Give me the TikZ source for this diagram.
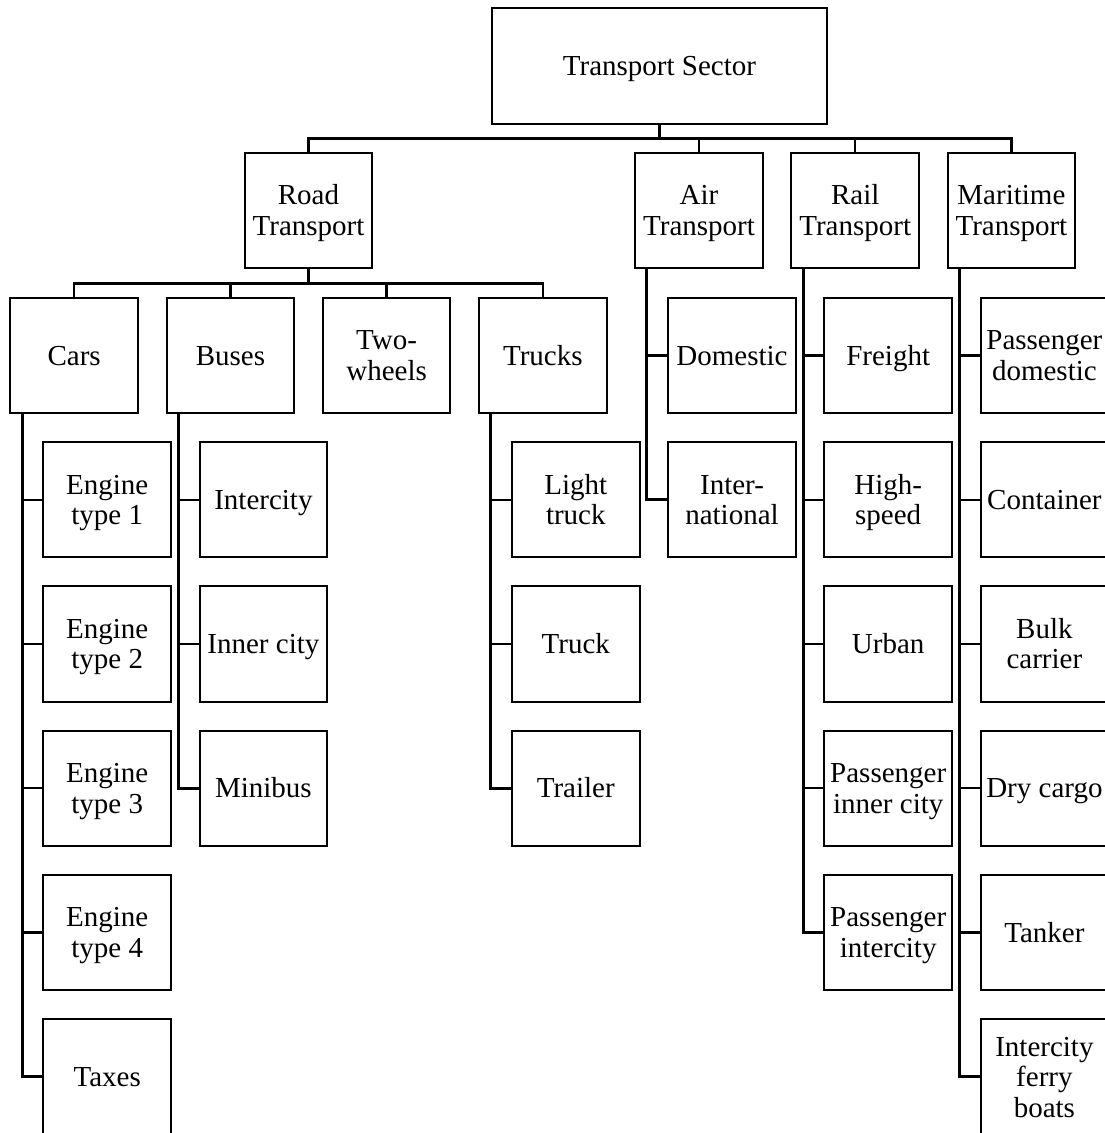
\documentclass[tikz,border=0pt]{standalone}
\usepackage{fontspec}
\setmainfont{Liberation Serif}
% one text line whose box runs from the baseline to the cap height
\newcommand\capline[1]{\raisebox{0pt}[19.2pt][0pt]{#1}}
\begin{document}
\begin{tikzpicture}[x=1pt, y=-1pt,
  every node/.style={font=\fontsize{29}{30.5}\selectfont, align=center},
  unit/.style={draw, line width=2pt, rectangle, minimum width=127.5pt,
    minimum height=115.5pt, inner sep=0pt},
  rootbox/.style={unit, minimum width=335pt, minimum height=115.7pt},
  link/.style={line width=2.3pt},
  trunk/.style={line width=3pt},
]
\path[use as bounding box, fill=white] (0,0) rectangle (1105,1133);

% top level
\node[rootbox] (root) at (659.5,66.2) {\capline{Transport Sector}};

% transport modes
\node[unit] (road) at (308.5,210.5) {\capline{Road}\\\capline{Transport}};
\node[unit] (air)  at (699,210.5)   {\capline{Air}\\\capline{Transport}};
\node[unit] (rail) at (855.2,210.5) {\capline{Rail}\\\capline{Transport}};
\node[unit] (mari) at (1011.4,210.5){\capline{Maritime}\\\capline{Transport}};

% road vehicle groups
\node[unit] (cars)   at (74.2,355.4)  {\capline{Cars}};
\node[unit] (buses)  at (230.4,355.4) {\capline{Buses}};
\node[unit] (two)    at (386.6,355.4) {\capline{Two-}\\\capline{wheels}};
\node[unit] (trucks) at (542.8,355.4) {\capline{Trucks}};

% cars
\node[unit] (e1)    at (107.2,499.7) {\capline{Engine}\\\capline{type 1}};
\node[unit] (e2)    at (107.2,644)   {\capline{Engine}\\\capline{type 2}};
\node[unit] (e3)    at (107.2,788.3) {\capline{Engine}\\\capline{type 3}};
\node[unit] (e4)    at (107.2,932.6) {\capline{Engine}\\\capline{type 4}};
\node[unit] (taxes) at (107.2,1076.9){\capline{Taxes}};

% buses
\node[unit] (bi) at (263.4,499.7) {\capline{Intercity}};
\node[unit] (bc) at (263.4,644)   {\capline{Inner city}};
\node[unit] (bm) at (263.4,788.3) {\capline{Minibus}};

% trucks
\node[unit] (lt) at (575.8,499.7) {\capline{Light}\\\capline{truck}};
\node[unit] (tr) at (575.8,644)   {\capline{Truck}};
\node[unit] (tl) at (575.8,788.3) {\capline{Trailer}};

% air
\node[unit] (dom)  at (732,355.4) {\capline{Domestic}};
\node[unit] (intl) at (732,499.7) {\capline{Inter-}\\\capline{national}};

% rail
\node[unit] (freight) at (888.2,355.4) {\capline{Freight}};
\node[unit] (hs)      at (888.2,499.7) {\capline{High-}\\\capline{speed}};
\node[unit] (urban)   at (888.2,644)   {\capline{Urban}};
\node[unit] (pic)     at (888.2,788.3) {\capline{Passenger}\\\capline{inner city}};
\node[unit] (pinc)    at (888.2,932.6) {\capline{Passenger}\\\capline{intercity}};

% maritime
\node[unit] (pd)    at (1044.4,355.4) {\capline{Passenger}\\\capline{domestic}};
\node[unit] (cont)  at (1044.4,499.7) {\capline{Container}};
\node[unit] (bulk)  at (1044.4,644)   {\capline{Bulk}\\\capline{carrier}};
\node[unit] (dry)   at (1044.4,788.3) {\capline{Dry cargo}};
\node[unit] (tank)  at (1044.4,932.6) {\capline{Tanker}};
\node[unit] (ferry) at (1044.4,1076.9){\capline{Intercity}\\\capline{ferry}\\\capline{boats}};

% root to modes
\draw[link] (root.south) -- ++(0,13.5) coordinate (hub0);
\draw[link] (road.north) |- (hub0) -| (mari.north);
\draw[link] (air.north) -- (air.north |- hub0);
\draw[link] (rail.north) -- (rail.north |- hub0);

% road to vehicle groups
\draw[link] (road.south) -- ++(0,14.3) coordinate (hub1);
\draw[link] (cars.north) |- (hub1) -| (trucks.north);
\draw[link] (buses.north) -- (buses.north |- hub1);
\draw[link] (two.north) -- (two.north |- hub1);

% vertical trunks with side branches
\coordinate (carsT) at ([xshift=12.6pt]cars.south west);
\draw[trunk] (carsT) |- (taxes.west);
\foreach \c in {e1,e2,e3,e4} \draw[link] (\c.west) -- (\c.west -| carsT);

\coordinate (busT) at ([xshift=12.6pt]buses.south west);
\draw[trunk] (busT) |- (bm.west);
\foreach \c in {bi,bc} \draw[link] (\c.west) -- (\c.west -| busT);

\coordinate (truckT) at ([xshift=12.6pt]trucks.south west);
\draw[trunk] (truckT) |- (tl.west);
\foreach \c in {lt,tr} \draw[link] (\c.west) -- (\c.west -| truckT);

\coordinate (airT) at ([xshift=12.6pt]air.south west);
\draw[trunk] (airT) |- (intl.west);
\draw[link] (dom.west) -- (dom.west -| airT);

\coordinate (railT) at ([xshift=12.6pt]rail.south west);
\draw[trunk] (railT) |- (pinc.west);
\foreach \c in {freight,hs,urban,pic} \draw[link] (\c.west) -- (\c.west -| railT);

\coordinate (mariT) at ([xshift=12.6pt]mari.south west);
\draw[trunk] (mariT) |- (ferry.west);
\foreach \c in {pd,cont,bulk,dry,tank} \draw[link] (\c.west) -- (\c.west -| mariT);
\end{tikzpicture}
\end{document}
